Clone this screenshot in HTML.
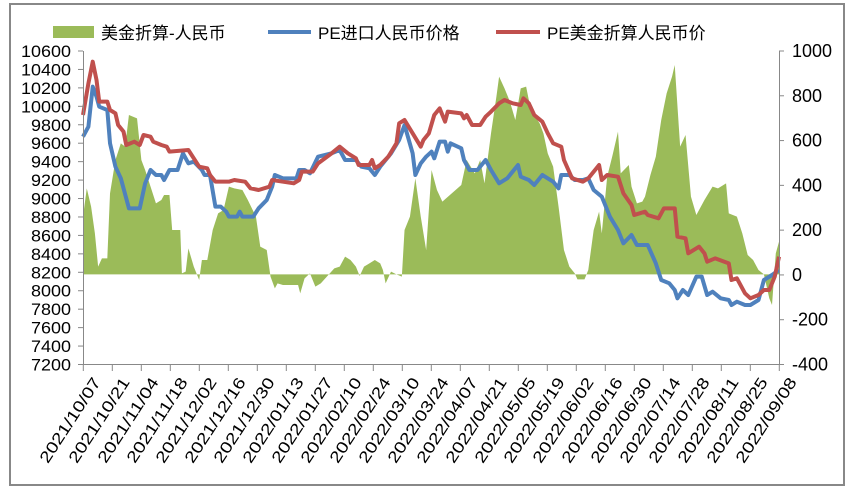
<!DOCTYPE html>
<html><head><meta charset="utf-8"><style>
html,body{margin:0;padding:0;background:#fff;width:849px;height:495px;overflow:hidden}
svg{display:block;font-family:"Liberation Sans Narrow","Liberation Sans","Noto Sans CJK SC",sans-serif}
</style></head><body>
<svg width="849" height="495" viewBox="0 0 849 495" xmlns="http://www.w3.org/2000/svg">
<rect x="10" y="4" width="834" height="481" fill="#fff" stroke="#888" stroke-width="2"/>
<g transform="translate(1.94,0) scale(0.5404,0.33333)">
<polygon fill="#9BBB59" points="150,823 150,650 157,565 165,620 172,700 178,800 185,775 195,775 200,580 210,480 220,430 228,440 235,345 250,355 258,480 265,510 275,560 285,610 295,600 300,585 310,585 315,690 330,690 333,820 340,815 345,745 355,800 360,820 365,840 370,780 380,780 390,690 400,640 410,630 420,560 430,565 445,570 455,600 470,650 478,740 490,750 497,830 505,865 510,850 520,855 548,855 552,880 560,835 570,820 580,860 590,850 615,805 625,800 635,770 645,780 655,800 662,828 670,800 680,790 690,780 700,790 705,810 710,850 720,815 730,823 740,830 745,690 755,650 765,535 775,650 785,750 795,510 805,570 815,605 850,555 860,480 875,520 885,480 893,550 905,400 915,290 920,230 930,265 940,305 950,360 960,265 970,260 975,300 985,345 995,370 1002,400 1010,460 1020,500 1030,620 1040,750 1050,800 1060,820 1065,838 1078,838 1085,810 1095,690 1105,635 1110,700 1120,530 1130,465 1140,395 1145,520 1160,495 1165,560 1175,610 1185,605 1190,590 1200,525 1210,470 1220,360 1230,280 1240,230 1245,195 1255,440 1265,405 1275,590 1285,645 1300,600 1315,560 1325,565 1340,550 1345,640 1360,650 1370,700 1380,765 1390,780 1400,810 1410,823 1420,895 1425,915 1432,760 1438,725 1438,823"/>
<polyline fill="none" stroke="#4F81BD" stroke-width="4" vector-effect="non-scaling-stroke" stroke-linejoin="round" points="150,410 160,380 168,260 175,290 180,320 195,330 200,430 210,500 220,535 230,595 235,625 255,625 265,550 275,510 285,525 295,525 300,540 310,510 325,510 335,460 345,490 355,485 370,510 375,525 385,525 395,620 405,620 415,635 420,650 435,650 440,635 445,650 465,650 475,625 490,600 500,560 505,525 520,535 545,535 550,510 560,510 570,520 585,470 610,460 625,450 635,480 655,480 665,500 680,505 690,525 700,500 720,460 735,420 745,375 760,460 765,525 775,490 785,470 795,455 800,475 810,425 820,425 825,455 830,430 850,445 855,480 865,510 880,510 895,480 905,510 920,550 935,535 955,495 960,530 975,540 985,555 1000,525 1020,545 1030,565 1035,525 1050,525 1060,540 1075,540 1085,535 1095,570 1110,590 1125,650 1140,690 1150,730 1165,705 1175,735 1195,735 1210,790 1220,840 1235,850 1245,870 1250,895 1260,870 1270,885 1285,830 1295,830 1305,885 1315,875 1330,895 1345,900 1350,915 1360,905 1375,915 1385,915 1400,900 1410,840 1425,825 1438,810"/>
<polyline fill="none" stroke="#C0504D" stroke-width="4" vector-effect="non-scaling-stroke" stroke-linejoin="round" points="150,345 160,250 168,185 175,240 180,305 195,305 200,330 210,340 215,375 225,395 230,435 245,425 255,435 262,405 275,410 280,425 295,435 305,440 310,455 345,450 355,475 365,500 380,505 385,525 395,545 420,545 430,540 450,545 460,565 475,570 495,560 500,540 520,545 540,550 550,540 555,515 575,515 585,490 610,460 625,440 640,460 655,475 660,495 680,495 685,480 690,505 700,495 715,470 730,430 735,370 745,360 760,400 775,440 780,420 790,400 800,345 810,325 820,365 825,335 850,340 855,355 860,345 870,375 885,375 895,350 905,335 920,310 930,300 945,310 960,315 965,295 975,310 985,345 1000,365 1010,400 1020,430 1035,440 1040,480 1055,535 1075,545 1085,535 1100,505 1105,495 1110,540 1120,525 1140,530 1150,580 1165,615 1170,645 1190,635 1195,645 1215,655 1225,625 1245,625 1250,710 1265,715 1270,760 1290,740 1300,760 1305,785 1320,775 1345,790 1350,840 1360,835 1375,880 1385,895 1400,885 1410,870 1420,870 1430,830 1438,770"/>
</g>
<g stroke="#888" stroke-width="1" fill="none">
<line x1="83.5" y1="51" x2="83.5" y2="364.5"/>
<line x1="779.5" y1="51" x2="779.5" y2="364.5"/>
<line x1="83" y1="364.5" x2="780" y2="364.5"/>
</g>
<g id="lt" stroke="#888" stroke-width="1"></g>
<g id="lbl" font-size="17" fill="#000"></g>
<rect x="53" y="26" width="41" height="12" fill="#9BBB59"/>
<text x="101" y="39" font-size="17">美金折算-人民币</text>
<line x1="268" y1="32" x2="311" y2="32" stroke="#4F81BD" stroke-width="4"/>
<text x="318" y="39" font-size="17">PE进口人民币价格</text>
<line x1="496" y1="32" x2="540" y2="32" stroke="#C0504D" stroke-width="4"/>
<text x="547" y="39" font-size="17">PE美金折算人民币价</text>
<script>
var ns="http://www.w3.org/2000/svg",lt=document.getElementById('lt'),lb=document.getElementById('lbl');
function el(t,a,p,tx){var e=document.createElementNS(ns,t);for(var k in a)e.setAttribute(k,a[k]);if(tx)e.textContent=tx;p.appendChild(e);return e;}
for(var i=0;i<=17;i++){var y=51+i*(313.5/17);el('line',{x1:78,x2:83,y1:y,y2:y},lt);
el('text',{x:71,y:y+6,'text-anchor':'end',textLength:(10600-200*i>=10000?50:40),lengthAdjust:'spacingAndGlyphs'},lb,String(10600-200*i));}
for(var i=0;i<=7;i++){var y=51+i*(313.5/7);el('line',{x1:779,x2:784,y1:y,y2:y},lt);
el('text',{x:792,y:y+6,'font-size':18},lb,String(1000-200*i));}
var d=["2021/10/07","2021/10/21","2021/11/04","2021/11/18","2021/12/02","2021/12/16","2021/12/30","2022/01/13","2022/01/27","2022/02/10","2022/02/24","2022/03/10","2022/03/24","2022/04/07","2022/04/21","2022/05/05","2022/05/19","2022/06/02","2022/06/16","2022/06/30","2022/07/14","2022/07/28","2022/08/11","2022/08/25","2022/09/08"];
for(var i=0;i<=24;i++){var x=83.3+i*(696/24);el('line',{x1:x,x2:x,y1:364,y2:371},lt);
el('text',{x:0,y:0,'text-anchor':'end',transform:'translate('+(x+18)+',382) rotate(-57)',textLength:98,lengthAdjust:'spacingAndGlyphs','font-size':16},lb,d[i]);}
</script>
</svg>
</body></html>
